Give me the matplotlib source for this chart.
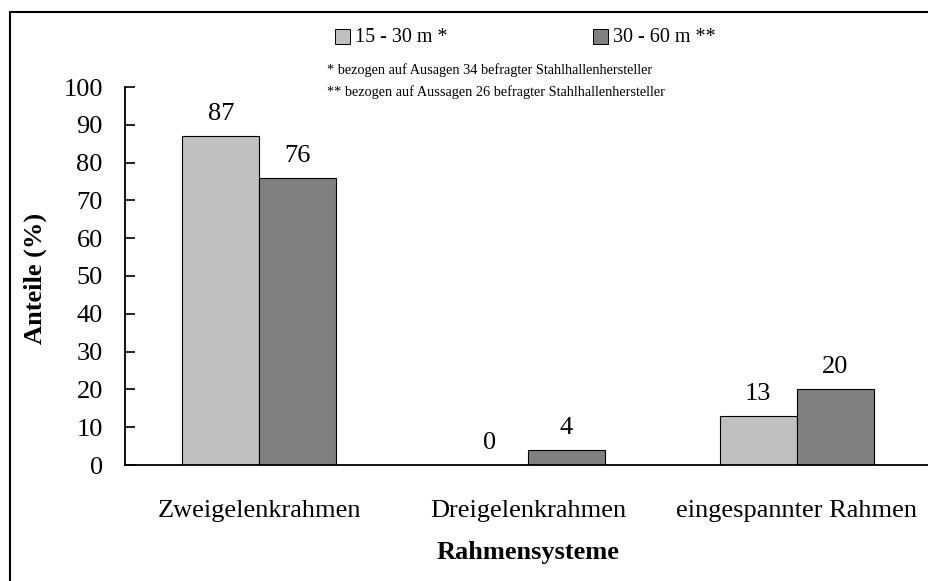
import matplotlib
matplotlib.use("Agg")
import matplotlib.pyplot as plt
from matplotlib.patches import Rectangle
import numpy as np

categories = ["Zweigelenkrahmen", "Dreigelenkrahmen", "eingespannter Rahmen"]
series_names = ["15 - 30 m *", "30 - 60 m **"]
values_15_30 = [87, 0, 13]
values_30_60 = [76, 4, 20]
yticks = [0, 10, 20, 30, 40, 50, 60, 70, 80, 90, 100]
footnotes = ["* bezogen auf Ausagen 34 befragter Stahlhallenhersteller",
             "** bezogen auf Aussagen 26 befragter Stahlhallenhersteller"]

plt.rcParams['font.family'] = ['Liberation Serif', 'DejaVu Serif']

W, H = 929, 581
FS = 19
fig = plt.figure(figsize=(W/100, H/100), dpi=100)
ax = fig.add_axes([125/W, 1-465/H, (931-125)/W, (465-87)/H])

x = np.arange(len(categories))
bw = 0.286
colors = ["#c0c0c0", "#808080"]
b1 = ax.bar(x - bw/2, values_15_30, bw, color=colors[0], edgecolor="black", linewidth=0.8)
b2 = ax.bar(x + bw/2, values_30_60, bw, color=colors[1], edgecolor="black", linewidth=0.8)

for bars, vals in ((b1, values_15_30), (b2, values_30_60)):
    for rect, v in zip(bars, vals):
        ax.annotate(f"{v}", (rect.get_x() + rect.get_width()/2, v),
                    xytext=(0, 8), textcoords="offset points",
                    ha="center", va="bottom", fontsize=FS)

ax.set_xlim(-0.5, 2.5)
ax.set_ylim(0, 100)
ax.set_yticks(yticks)
ax.set_yticklabels([str(t) for t in yticks], fontsize=FS)
ax.set_xticks(x)
ax.set_xticklabels(categories, fontsize=FS)
ax.tick_params(axis="y", direction="in", length=7, width=1.2, pad=16)
ax.tick_params(axis="x", length=0, pad=25)
for s in ("top", "right"):
    ax.spines[s].set_visible(False)
ax.spines["left"].set_linewidth(1.3)
ax.spines["bottom"].set_linewidth(1.3)

fig.text(35/W, 1-278/H, "Anteile (%)", fontsize=FS, fontweight="bold",
         rotation=90, ha="center", va="center")
fig.text(528/W, 1-553/H, "Rahmensysteme", fontsize=FS, fontweight="bold",
         ha="center", va="center")

# legend
leg_items = [(335, series_names[0], colors[0]), (593, series_names[1], colors[1])]
for px, label, c in leg_items:
    fig.patches.append(Rectangle((px/W, 1-44/H), 15/W, 15/H, transform=fig.transFigure,
                                 facecolor=c, edgecolor="black", linewidth=0.7))
    fig.text((px+20)/W, 1-38/H, label, fontsize=14.5, ha="left", va="center")

fig.text(327/W, 1-70/H, footnotes[0], fontsize=10.3, ha="left", va="center")
fig.text(327/W, 1-92/H, footnotes[1], fontsize=10.3, ha="left", va="center")

# figure border
fig.patches.append(Rectangle((10/W, -0.05), 1.1, 1-12/H+0.05, transform=fig.transFigure,
                             fill=False, edgecolor="black", linewidth=1.5, clip_on=False))

fig.savefig("out.png", dpi=100)
